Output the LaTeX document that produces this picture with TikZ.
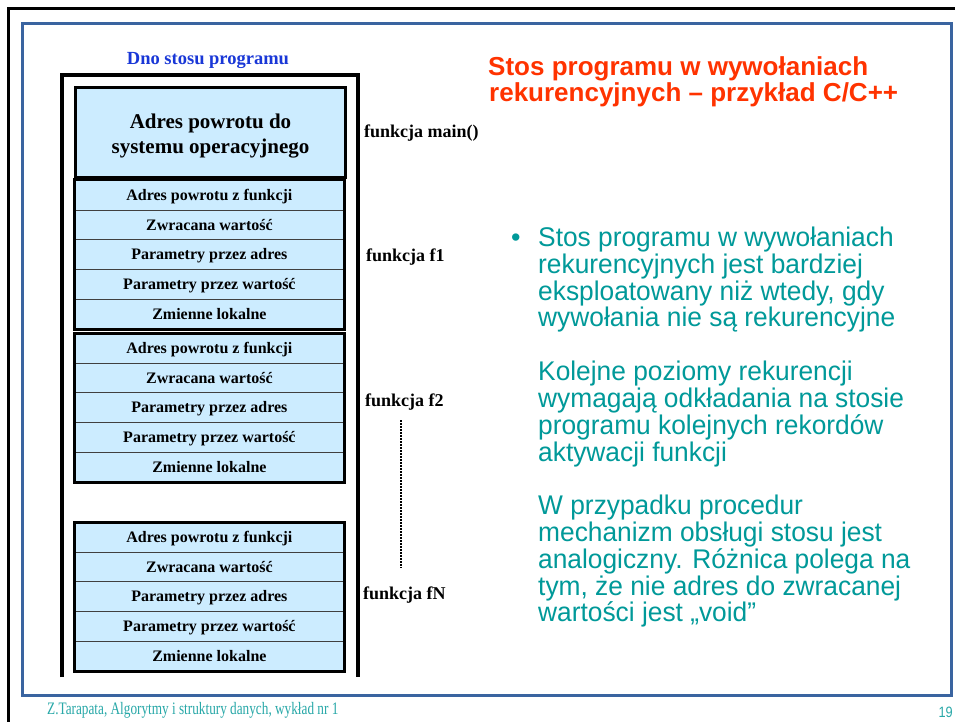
\documentclass[tikz,border=0pt]{standalone}
\usepackage{fontspec}
\setmainfont{Liberation Serif}
\newfontfamily\arialfont{Liberation Sans}

\definecolor{frameblue}{RGB}{58,100,160}
\definecolor{cellfill}{RGB}{204,236,255}
\definecolor{titlered}{RGB}{255,51,0}
\definecolor{bodyteal}{RGB}{0,153,153}
\definecolor{footteal}{RGB}{40,168,168}
\definecolor{dnoblue}{RGB}{25,55,215}

\tikzset{
  cell/.style={draw=black!75, line width=0.8pt, fill=cellfill,
    minimum width=270pt, minimum height=29.7pt, inner sep=0pt,
    text height=10.6pt, text depth=0pt, anchor=north west,
    font=\fontsize{16}{19}\selectfont\bfseries},
  grouprim/.style={draw, line width=3pt},
  wall/.style={draw, line width=3.5pt, line join=miter},
  fnlabel/.style={anchor=base west, inner sep=0pt,
    font=\fontsize{18}{21}\selectfont\bfseries},
  bodyline/.style={anchor=base west, inner sep=0pt, text=bodyteal,
    font=\arialfont\fontsize{27}{27}\selectfont},
  titleline/.style={anchor=base west, inner sep=0pt, text=titlered,
    font=\arialfont\fontsize{26}{26}\selectfont\bfseries},
}

\begin{document}
\begin{tikzpicture}[x=1pt,y=-1pt]
\useasboundingbox (0,0) rectangle (955,722);
\fill[white] (0,0) rectangle (955,722);

% slide frames
\draw[line width=3pt] (8,722) -- (8,9) -- (955,9);
\draw[frameblue, line width=3pt] (22.3,24) rectangle (951,695);

% stack container
\coordinate (wallbl) at (62,677);
\coordinate (walltr) at (358,75);
\coordinate (wallbr) at (358,677);
\draw[wall] (wallbl) |- (walltr) -- (wallbr);
\node[anchor=base, inner sep=0pt, text=dnoblue,
  font=\fontsize{18.5}{21}\selectfont\bfseries] (dno) at (208,65) {Dno stosu programu};

% frame of main()
\node[draw, line width=3pt, fill=cellfill, anchor=north west, inner sep=0pt,
  minimum width=270pt, minimum height=90pt] (sysret) at (74,86) {};
\node[align=center, inner sep=0pt, font=\fontsize{21}{25}\selectfont\bfseries]
  (sysrettxt) at ([yshift=-3.6pt]sysret.center) {Adres powrotu do\\systemu operacyjnego};

% activation records of f1, f2, fN
\foreach \ytop/\g in {180/a,333/b,522/c}{
  \foreach \txt [count=\i] in {Adres powrotu z funkcji, Zwracana wartość,
      Parametry przez adres, Parametry przez wartość, Zmienne lokalne}{
    \node[cell] (\g\i) at (74,{\ytop+(\i-1)*29.7}) {\txt};
  }
  \draw[grouprim] (\g1.north west) rectangle (\g5.south east);
}

% function labels
\node[fnlabel] (lmain) at (364,138) {funkcja main()};
\node[fnlabel] (lf1) at (366,261) {funkcja f1};
\node[fnlabel] (lf2) at (365,406) {funkcja f2};
\node[fnlabel] (lfN) at (363,599) {funkcja fN};
\coordinate (dotstart) at (401,420);
\coordinate (dotend) at (401,568);
\draw[line width=2.2pt, dash pattern=on 1.6pt off 1.4pt] (dotstart) -- (dotend);

% title
\node[titleline] (title1) at (488,76) {Stos programu w wywołaniach};
\node[titleline] (title2) at (489,101.5) {rekurencyjnych – przykład C/C++};

% bullet text
\node[bodyline] (bullet) at (511,246.5) {•};
\foreach \s/\t in {0/{Stos programu w wywołaniach},
    1/{rekurencyjnych jest bardziej},
    2/{eksploatowany niż wtedy, gdy},
    3/{wywołania nie są rekurencyjne},
    5/{Kolejne poziomy rekurencji},
    6/{wymagają odkładania na stosie},
    7/{programu kolejnych rekordów},
    8/{aktywacji funkcji},
    10/{W przypadku procedur},
    11/{mechanizm obsługi stosu jest},
    12/{analogiczny. Różnica polega na},
    13/{tym, że nie adres do zwracanej},
    14/{wartości jest „void”}}{
  \node[bodyline] (body\s) at (538,{246.5+\s*26.82}) {\scalebox{0.975}[1]{\t}};
}

% footer
\node[anchor=base west, inner sep=0pt, text=footteal,
  font=\fontsize{17.5}{20}\selectfont] (foot) at (47,714.5)
  {\scalebox{0.757}[1]{Z.Tarapata, Algorytmy i struktury danych, wykład nr 1}};
\node[anchor=base east, inner sep=0pt, text=footteal,
  font=\arialfont\fontsize{15}{17}\selectfont] (pageno) at (953,717.5)
  {\scalebox{0.85}[1]{19}};
\end{tikzpicture}
\end{document}
